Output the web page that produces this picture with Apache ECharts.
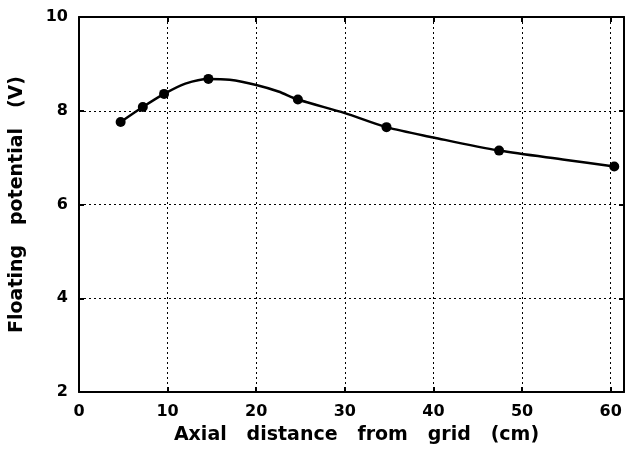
<!DOCTYPE html>
<html>
<head>
<meta charset="utf-8">
<script src="https://cdn.jsdelivr.net/npm/echarts@6/dist/echarts.min.js"></script>
<style>
html,body{margin:0;padding:0;background:#fff;}
#chart{width:627px;height:450px;}
</style>
</head>
<body>
<div id="chart"></div>
<script>
// measured points (markers)
var distance = [4.7, 7.2, 9.6, 14.6, 24.7, 34.7, 47.4, 60.4];
var potential = [7.76, 8.08, 8.36, 8.68, 8.24, 7.65, 7.15, 6.81];
// fitted curve, values
var curveX = [4.7, 7.2, 9.6, 12, 14.6, 17, 20, 22.5, 24.7, 30, 34.7, 40, 47.4, 55, 60.4];
var curveY = [7.76, 8.08, 8.36, 8.58, 8.68, 8.66, 8.55, 8.41, 8.24, 7.95, 7.65, 7.43, 7.15, 6.95, 6.81];
var xTicks = [0, 10, 20, 30, 40, 50, 60];
var yTicks = [2, 4, 6, 8, 10];
var xTitle = 'Axial   distance   from   grid   (cm)';
var yTitle = 'Floating   potential   (V)';

var points = distance.map(function (d, i) { return [d, potential[i]]; });
var curve = curveX.map(function (d, i) { return [d, curveY[i]]; });
var chart = echarts.init(document.getElementById('chart'), null, {renderer: 'canvas'});
var FONT = '"DejaVu Sans", "Liberation Sans", Arial, sans-serif';
var frameLine = {show: true, onZero: false, lineStyle: {color: '#000', width: 2}};
var tick = {show: true, inside: true, length: 5, lineStyle: {color: '#000', width: 2}};
var grid = {show: true, type: [2, 3], color: '#000', width: 1};

chart.setOption({
  animation: false,
  backgroundColor: '#fff',
  grid: {left: 78, right: 3, top: 17, bottom: 55, containLabel: false},
  xAxis: [{
    type: 'value', position: 'bottom', min: 0, max: 61.5, interval: 10,
    axisLine: frameLine, axisTick: tick,
    axisLabel: {
      show: true, margin: 12, color: '#000', fontFamily: FONT, fontSize: 16, fontWeight: 'bold',
      showMaxLabel: false,
      formatter: function (v) { return xTicks.indexOf(v) >= 0 ? String(v) : ''; }
    },
    splitLine: {show: true, lineStyle: grid},
    name: xTitle, nameLocation: 'middle', nameGap: 34,
    nameTextStyle: {color: '#000', fontFamily: FONT, fontSize: 19, fontWeight: 'bold', padding: [0, 0, 0, 10]}
  }, {
    type: 'value', position: 'top', min: 0, max: 61.5, interval: 10,
    axisLine: frameLine, axisTick: tick, axisLabel: {show: false}, splitLine: {show: false}
  }],
  yAxis: [{
    type: 'value', position: 'left', min: 2, max: 10, interval: 2,
    axisLine: frameLine, axisTick: tick,
    axisLabel: {
      show: true, margin: 11, color: '#000', fontFamily: FONT, fontSize: 16, fontWeight: 'bold',
      formatter: function (v) { return yTicks.indexOf(v) >= 0 ? String(v) : ''; }
    },
    splitLine: {show: true, lineStyle: grid},
    name: yTitle, nameLocation: 'middle', nameGap: 52, nameRotate: 90,
    nameTextStyle: {color: '#000', fontFamily: FONT, fontSize: 19, fontWeight: 'bold'}
  }, {
    type: 'value', position: 'right', min: 2, max: 10, interval: 2,
    axisLine: frameLine, axisTick: tick, axisLabel: {show: false}, splitLine: {show: false}
  }],
  series: [{
    type: 'line',
    data: curve,
    smooth: 0.3,
    symbol: 'none',
    lineStyle: {color: '#000', width: 2.5},
    z: 2
  }, {
    type: 'scatter',
    data: points,
    symbol: 'circle',
    symbolSize: 10,
    itemStyle: {color: '#000', opacity: 1},
    z: 3
  }]
});
</script>
</body>
</html>
